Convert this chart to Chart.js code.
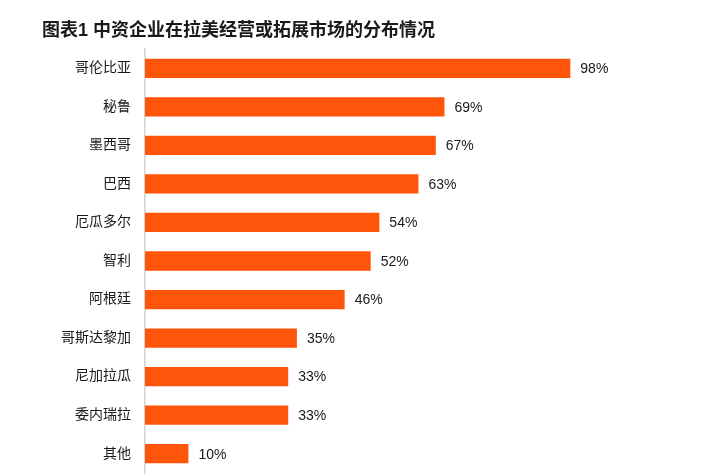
<!DOCTYPE html>
<html>
<head>
<meta charset="utf-8">
<script src="https://cdn.jsdelivr.net/npm/chart.js@4"></script>
<style>
  html, body { margin: 0; padding: 0; background: #fff; }
  #wrap { position: relative; width: 712px; height: 476px; }
  #title {
    position: absolute; left: 42px; top: 15px;
    font: bold 18px "Liberation Sans", "Noto Sans CJK SC", sans-serif;
    color: #1a1a1a; white-space: nowrap;
  }
</style>
</head>
<body>
<div id="wrap">
  <div id="title">图表1 中资企业在拉美经营或拓展市场的分布情况</div>
  <canvas id="barChart" width="712" height="476"></canvas>
</div>
<script>
// data
const countries = ["哥伦比亚", "秘鲁", "墨西哥", "巴西", "厄瓜多尔", "智利", "阿根廷", "哥斯达黎加", "尼加拉瓜", "委内瑞拉", "其他"];
const shares = [98, 69, 67, 63, 54, 52, 46, 35, 33, 33, 10];

const fontFamily = '"Liberation Sans", "Noto Sans CJK SC", sans-serif';

// draws "98%" etc. just past the end of each bar
const valueLabels = {
  id: "valueLabels",
  afterDatasetsDraw(chart) {
    const ctx = chart.ctx;
    const meta = chart.getDatasetMeta(0);
    ctx.save();
    ctx.font = "14px " + fontFamily;
    ctx.fillStyle = "#1a1a1a";
    ctx.textAlign = "left";
    ctx.textBaseline = "middle";
    meta.data.forEach((bar, i) => {
      ctx.fillText(shares[i] + "%", bar.x + 10, bar.y + 1);
    });
    ctx.restore();
  },
};

function buildConfig() {
  return {
    type: "bar",
    data: {
      labels: countries,
      datasets: [
        {
          data: shares,
          backgroundColor: "#FF550A",
          borderWidth: 0,
          barPercentage: 0.5,
          categoryPercentage: 1,
        },
      ],
    },
    options: {
      indexAxis: "y",
      responsive: false,
      animation: false,
      layout: { padding: { top: 49, bottom: 3, left: 0, right: 133 } },
      plugins: {
        legend: { display: false },
        tooltip: { enabled: false },
      },
      scales: {
        x: { display: false, min: 0, max: 100 },
        y: {
          afterFit: function (scale) {
            scale.width = 145;
            // labels sit inside the bands, no extra room needed above/below
            scale.paddingTop = 0;
            scale.paddingBottom = 0;
          },
          grid: { display: false, drawTicks: false },
          border: { display: true, color: "#d4d4d4", width: 1.5 },
          ticks: {
            padding: 14,
            color: "#1a1a1a",
            font: { size: 14, family: fontFamily },
          },
        },
      },
    },
    plugins: [valueLabels],
  };
}

const ctx = document.getElementById("barChart").getContext("2d");
new Chart(ctx, buildConfig());
</script>
</body>
</html>
